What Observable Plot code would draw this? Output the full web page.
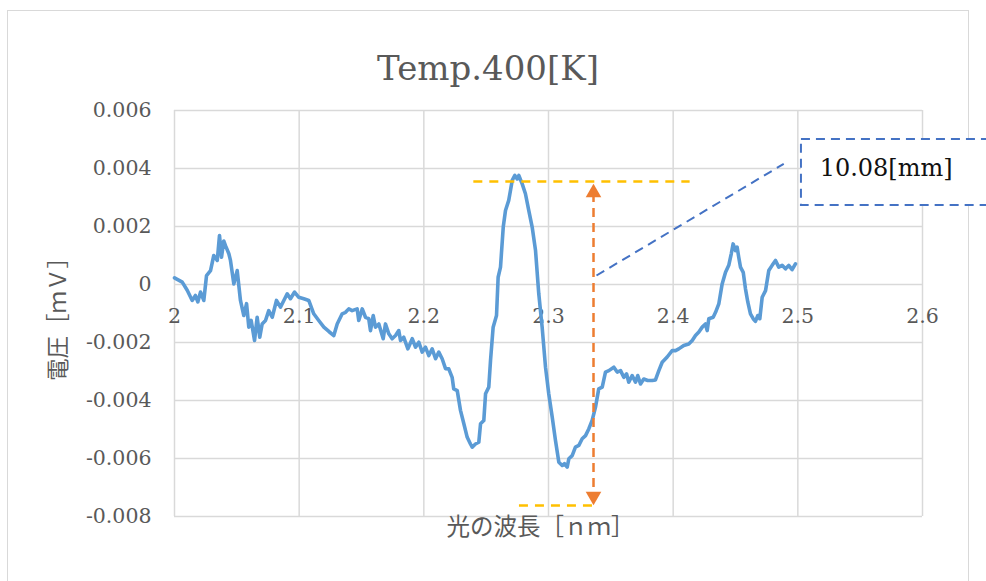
<!DOCTYPE html>
<html>
<head>
<meta charset="utf-8">
<script src="https://cdn.jsdelivr.net/npm/d3@7"></script>
<script src="https://cdn.jsdelivr.net/npm/@observablehq/plot@0.6"></script>
<style>
  html, body { margin: 0; padding: 0; background: #fff; overflow: hidden; }
  #wrap { position: relative; width: 986px; height: 581px; }
  #border { position: absolute; left: 7px; top: 10px; width: 962px; height: 640px;
            border: 1.5px solid #d9d9d9; box-sizing: border-box; }
  #chart { position: absolute; left: 0; top: 0; }
</style>
</head>
<body>
<div id="wrap"><div id="border"></div><div id="chart"></div></div>
<script>
// ---- data ----
const wavelength = [
  2.0000, 2.0062, 2.0102, 2.0142, 2.0168, 2.0187, 2.0209, 2.0235, 2.0257, 2.0289,
  2.0315, 2.0343, 2.0361, 2.0377, 2.0395, 2.0409, 2.0436, 2.0449, 2.0476, 2.0503,
  2.0529, 2.0556, 2.0578, 2.0596, 2.0615, 2.0642, 2.0663, 2.0684, 2.0703, 2.0730,
  2.0756, 2.0784, 2.0818, 2.0850, 2.0877, 2.0904, 2.0930, 2.0963, 2.0997, 2.1037,
  2.1077, 2.1117, 2.1157, 2.1198, 2.1238, 2.1278, 2.1305, 2.1345, 2.1372, 2.1398,
  2.1425, 2.1465, 2.1478, 2.1506, 2.1532, 2.1558, 2.1572, 2.1594, 2.1612, 2.1639,
  2.1674, 2.1692, 2.1719, 2.1746, 2.1773, 2.1799, 2.1813, 2.1839, 2.1872, 2.1907,
  2.1933, 2.1960, 2.1987, 2.2013, 2.2040, 2.2067, 2.2094, 2.2120, 2.2147, 2.2174,
  2.2200, 2.2227, 2.2240, 2.2268, 2.2294, 2.2321, 2.2348, 2.2374, 2.2388, 2.2414,
  2.2441, 2.2455, 2.2481, 2.2495, 2.2521, 2.2535, 2.2556, 2.2583, 2.2596, 2.2615,
  2.2637, 2.2655, 2.2681, 2.2709, 2.2730, 2.2749, 2.2762, 2.2789, 2.2815, 2.2842,
  2.2869, 2.2896, 2.2922, 2.2949, 2.2976, 2.3002, 2.3030, 2.3056, 2.3083, 2.3110,
  2.3128, 2.3150, 2.3163, 2.3190, 2.3216, 2.3243, 2.3270, 2.3297, 2.3323, 2.3350,
  2.3377, 2.3403, 2.3431, 2.3457, 2.3484, 2.3524, 2.3551, 2.3578, 2.3604, 2.3626,
  2.3644, 2.3671, 2.3698, 2.3716, 2.3738, 2.3764, 2.3796, 2.3832, 2.3858, 2.3885,
  2.3912, 2.3952, 2.3992, 2.4019, 2.4045, 2.4085, 2.4125, 2.4153, 2.4179, 2.4206,
  2.4233, 2.4259, 2.4273, 2.4286, 2.4321, 2.4340, 2.4366, 2.4393, 2.4420, 2.4446,
  2.4466, 2.4481, 2.4500, 2.4513, 2.4526, 2.4540, 2.4562, 2.4580, 2.4599, 2.4620,
  2.4642, 2.4660, 2.4679, 2.4695, 2.4714, 2.4741, 2.4767, 2.4794, 2.4821, 2.4847,
  2.4874, 2.4901, 2.4927, 2.4954, 2.4981
];
const voltage = [
  0.00023, 0.00008, -0.00020, -0.00055, -0.00038, -0.00060, -0.00026, -0.00055, 0.00031, 0.00048,
  0.00100, 0.00083, 0.00169, 0.00094, 0.00150, 0.00134, 0.00106, 0.00083, 0.00002, 0.00048,
  -0.00055, -0.00107, -0.00066, -0.00147, -0.00124, -0.00193, -0.00113, -0.00182, -0.00136, -0.00124,
  -0.00090, -0.00113, -0.00055, -0.00078, -0.00055, -0.00032, -0.00049, -0.00026, -0.00044, -0.00049,
  -0.00055, -0.00101, -0.00124, -0.00147, -0.00162, -0.00176, -0.00136, -0.00101, -0.00096, -0.00084,
  -0.00090, -0.00084, -0.00124, -0.00084, -0.00113, -0.00118, -0.00159, -0.00107, -0.00147, -0.00136,
  -0.00187, -0.00136, -0.00170, -0.00187, -0.00176, -0.00159, -0.00193, -0.00182, -0.00222, -0.00187,
  -0.00216, -0.00199, -0.00233, -0.00216, -0.00245, -0.00222, -0.00256, -0.00233, -0.00256, -0.00290,
  -0.00291, -0.00320, -0.00360, -0.00366, -0.00434, -0.00480, -0.00527, -0.00550, -0.00561, -0.00550,
  -0.00544, -0.00480, -0.00469, -0.00377, -0.00354, -0.00262, -0.00147, -0.00107, 0.00025, 0.00060,
  0.00198, 0.00255, 0.00290, 0.00359, 0.00376, 0.00364, 0.00376, 0.00347, 0.00313, 0.00255,
  0.00198, 0.00117, -0.00032, -0.00147, -0.00285, -0.00377, -0.00458, -0.00538, -0.00613, -0.00624,
  -0.00618, -0.00630, -0.00601, -0.00590, -0.00561, -0.00555, -0.00532, -0.00521, -0.00498, -0.00469,
  -0.00423, -0.00360, -0.00354, -0.00302, -0.00297, -0.00285, -0.00302, -0.00297, -0.00320, -0.00308,
  -0.00337, -0.00314, -0.00337, -0.00314, -0.00343, -0.00326, -0.00331, -0.00331, -0.00329, -0.00297,
  -0.00268, -0.00250, -0.00228, -0.00228, -0.00222, -0.00210, -0.00205, -0.00193, -0.00176, -0.00164,
  -0.00147, -0.00136, -0.00159, -0.00118, -0.00113, -0.00096, -0.00067, 0.00002, 0.00042, 0.00066,
  0.00106, 0.00140, 0.00117, 0.00129, 0.00094, 0.00060, 0.00042, -0.00015, -0.00061, -0.00101,
  -0.00118, -0.00127, -0.00107, -0.00118, -0.00044, -0.00021, 0.00048, 0.00066, 0.00083, 0.00060,
  0.00066, 0.00054, 0.00066, 0.00051, 0.00071
];
const xTicks = [2.0, 2.1, 2.2, 2.3, 2.4, 2.5, 2.6];
const xTickLabels = ["2", "2.1", "2.2", "2.3", "2.4", "2.5", "2.6"];
const yTicks = [0.006, 0.004, 0.002, 0, -0.002, -0.004, -0.006, -0.008];
const yTickLabels = ["0.006", "0.004", "0.002", "0", "-0.002", "-0.004", "-0.006", "-0.008"];

const titleText = "Temp.400[K]";
const xLabel = "光の波長［ｎｍ］";
const yLabel = "電圧［ｍＶ］";

// annotation (data coordinates)
const peakLevel = [0.00355];       const peakSpan = [2.2401, 2.4136];
const troughLevel = [-0.00762];    const troughSpan = [2.2767, 2.3405];
const arrowX = [2.3361];           const arrowEnds = [0.00348, -0.00762];
const leader = [2.3385, 0.00031, 2.4887, 0.00416];
const calloutBox = [2.5029, 2.66, 0.005, 0.002724];
const calloutText = ["10.08[mm]"];
const calloutAt = [2.5175, 0.00402];

// ---- chart ----
const serif = "'DejaVu Serif', 'Liberation Serif', serif";
const cjk = "'Noto Sans CJK JP', 'Noto Sans CJK SC', sans-serif";
const grey = "#595959";
const gridC = "#d9d9d9";
const series = wavelength.map((x, i) => ({x, y: voltage[i]}));
const xt = xTicks.map((v, i) => ({v, label: xTickLabels[i]}));
const yt = yTicks.map((v, i) => ({v, label: yTickLabels[i]}));

const chart = Plot.plot({
  width: 986,
  height: 581,
  marginLeft: 174,
  marginRight: 64,
  marginTop: 110,
  marginBottom: 65,
  style: {background: "transparent", fontFamily: serif, color: grey, overflow: "hidden"},
  x: {domain: [2, 2.6], axis: null},
  y: {domain: [-0.008, 0.006], axis: null},
  marks: [
    Plot.ruleX(xTicks, {stroke: gridC, strokeWidth: 1.5}),
    Plot.ruleY(yTicks, {stroke: gridC, strokeWidth: 1.5}),
    Plot.text(yt, {y: "v", text: "label", frameAnchor: "left", dx: -23, textAnchor: "end",
      fontSize: 20.5, fill: grey, fontFamily: serif}),
    Plot.text(xt, {x: "v", y: () => 0, text: "label", dy: 32, textAnchor: "middle",
      fontSize: 20.5, fill: grey, fontFamily: serif}),
    Plot.text([titleText], {text: d => d, frameAnchor: "top", dx: -60.5, dy: -54.5,
      textAnchor: "middle", fontSize: 34, fill: grey, fontFamily: serif}),
    Plot.text([xLabel], {text: d => d, frameAnchor: "bottom", dx: -8, dy: 18,
      textAnchor: "middle", fontSize: 23.5, fill: grey, fontFamily: cjk}),
    Plot.text([yLabel], {text: d => d, frameAnchor: "left", dx: -116, rotate: -90,
      textAnchor: "middle", fontSize: 22.5, fill: grey, fontFamily: cjk}),
    Plot.line(series, {x: "x", y: "y", stroke: "#5B9BD5", strokeWidth: 3.6,
      strokeLinejoin: "round", strokeLinecap: "round"}),
    Plot.ruleY(peakLevel, {x1: peakSpan[0], x2: peakSpan[1], stroke: "#FFC000",
      strokeWidth: 2.5, strokeDasharray: "9,7"}),
    Plot.ruleY(troughLevel, {x1: troughSpan[0], x2: troughSpan[1], stroke: "#FFC000",
      strokeWidth: 2.5, strokeDasharray: "9,7"}),
    Plot.ruleX(arrowX, {y1: arrowEnds[0], y2: arrowEnds[1], stroke: "#ED7D31",
      strokeWidth: 2.5, strokeDasharray: "9,6", insetTop: 10, insetBottom: 10}),
    Plot.dot(arrowX, {x: d => d, y: () => arrowEnds[0], symbol: "triangle", r: 5.8,
      dy: 9.2, fill: "#ED7D31", stroke: "none"}),
    Plot.dot(arrowX, {x: d => d, y: () => arrowEnds[1], symbol: "triangle", r: 5.8,
      rotate: 180, dy: -9.2, fill: "#ED7D31", stroke: "none"}),
    Plot.link([leader], {x1: d => d[0], y1: d => d[1], x2: d => d[2], y2: d => d[3],
      stroke: "#4472C4", strokeWidth: 2, strokeDasharray: "9,6"}),
    Plot.rect([calloutBox], {x1: d => d[0], x2: d => d[1], y1: d => d[2], y2: d => d[3],
      fill: "#fff", stroke: "#4472C4", strokeWidth: 2, strokeDasharray: "9,6"}),
    Plot.text(calloutText, {x: () => calloutAt[0], y: () => calloutAt[1], text: d => d,
      textAnchor: "start", fontSize: 24, fill: "#111", fontFamily: serif})
  ]
});
document.getElementById("chart").appendChild(chart);
</script>
</body>
</html>
